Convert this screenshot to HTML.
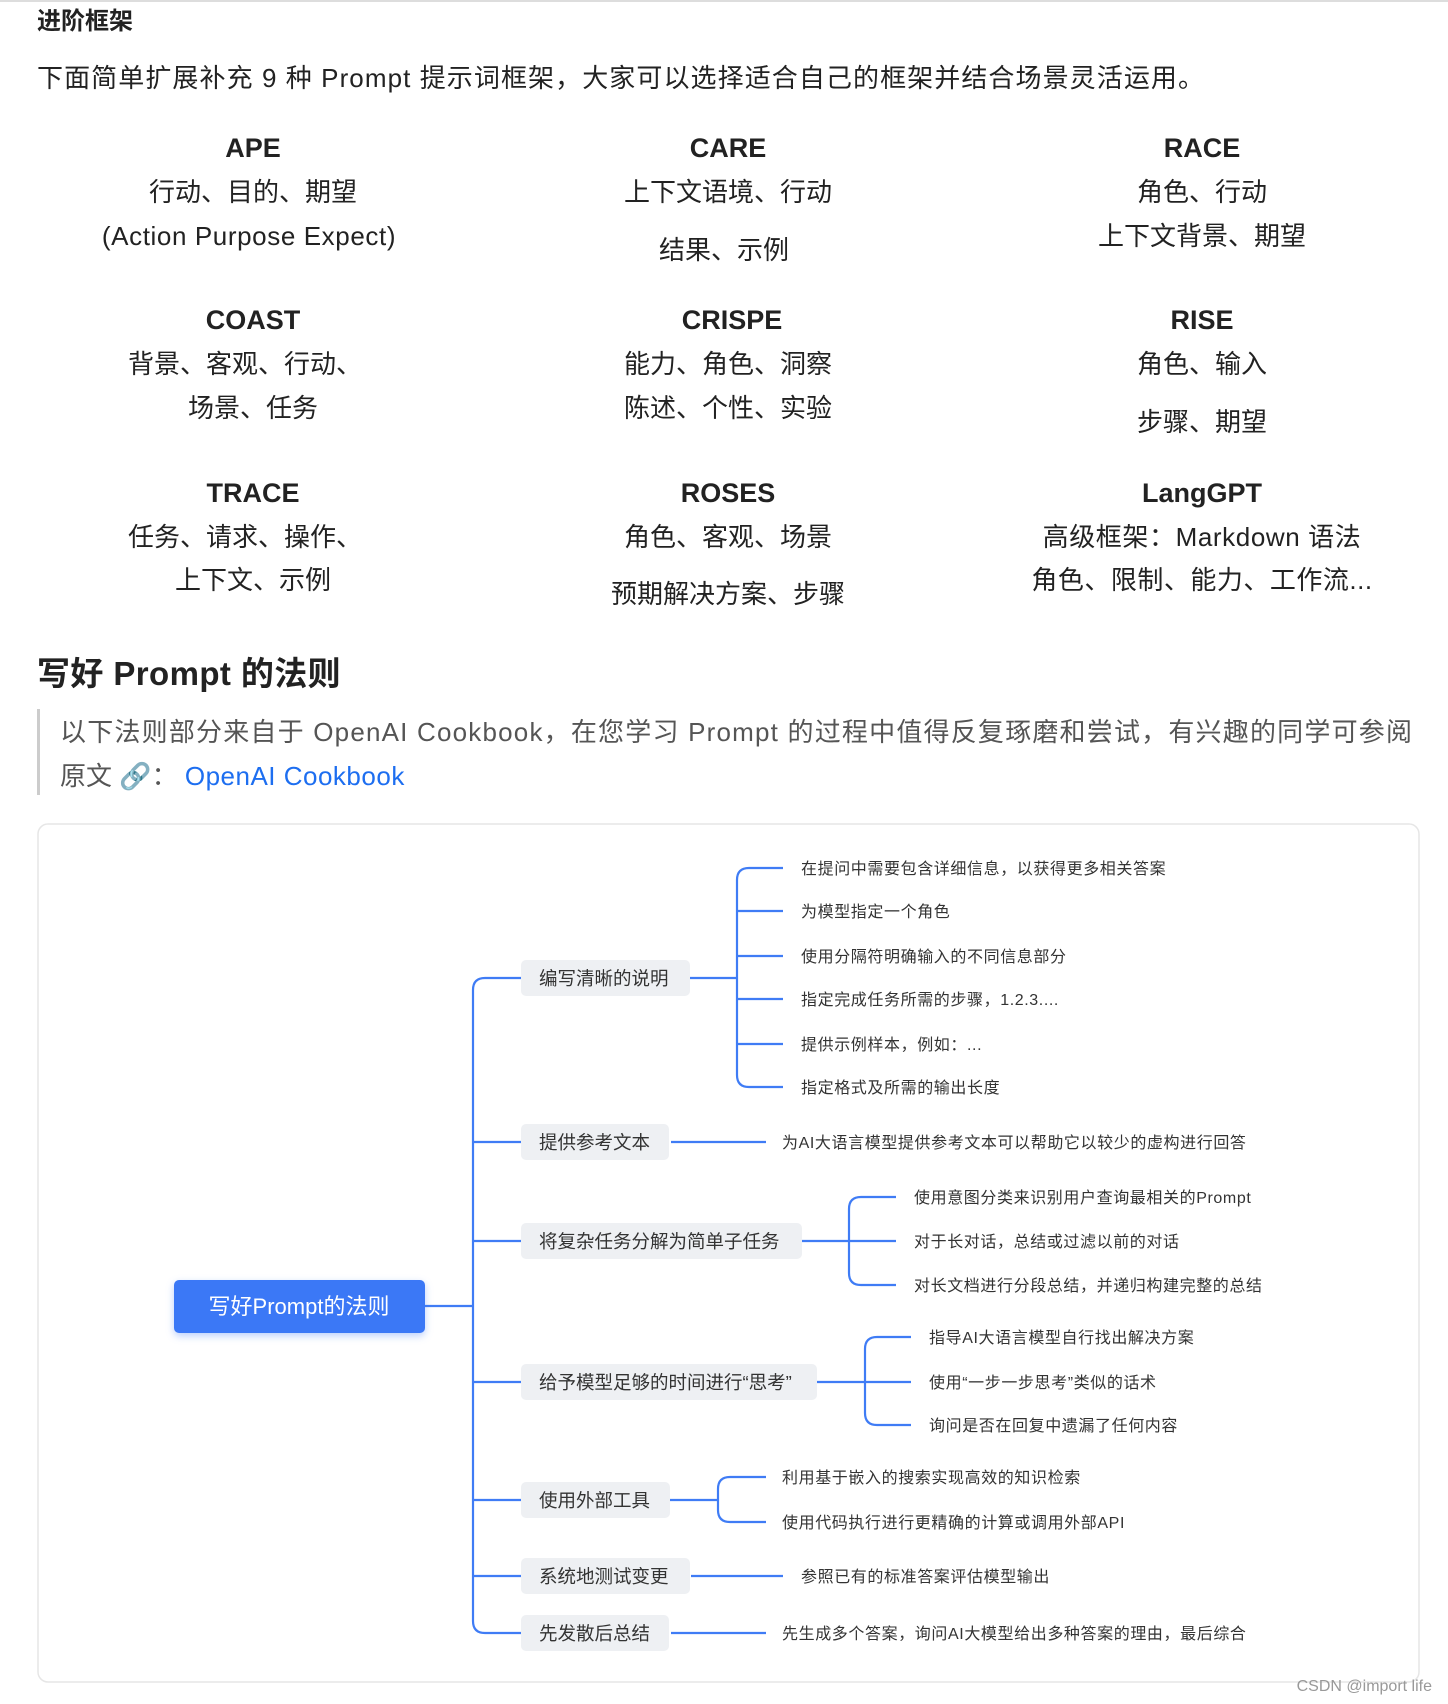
<!DOCTYPE html>
<html><head><meta charset="utf-8"><style>
html,body{margin:0;padding:0;background:#fff;}
svg{display:block;}
text{font-family:"Liberation Sans","Noto Sans CJK SC",sans-serif;}
</style></head><body>
<svg width="1448" height="1704" viewBox="0 0 1448 1704" xmlns="http://www.w3.org/2000/svg">
<line x1="0" y1="1" x2="1448" y2="1" stroke="#ddd" stroke-width="2"/>
<text x="37" y="29" font-size="24" font-weight="bold" fill="#222">进阶框架</text>
<text x="37" y="87" font-size="26" fill="#222" textLength="1167" lengthAdjust="spacing">下面简单扩展补充 9 种 Prompt 提示词框架，大家可以选择适合自己的框架并结合场景灵活运用。</text>

<g font-size="26" fill="#222" text-anchor="middle">
<text x="253" y="157" font-weight="bold" font-size="27">APE</text>
<text x="253" y="201">行动、目的、期望</text>
<text x="249" y="245" letter-spacing="0.6">(Action Purpose Expect)</text>
<text x="728" y="157" font-weight="bold" font-size="27">CARE</text>
<text x="728" y="201">上下文语境、行动</text>
<text x="724" y="259">结果、示例</text>
<text x="1202" y="157" font-weight="bold" font-size="27">RACE</text>
<text x="1202" y="201">角色、行动</text>
<text x="1202" y="245">上下文背景、期望</text>

<text x="253" y="329" font-weight="bold" font-size="27">COAST</text>
<text x="245" y="373">背景、客观、行动、</text>
<text x="253" y="417">场景、任务</text>
<text x="732" y="329" font-weight="bold" font-size="27">CRISPE</text>
<text x="728" y="373">能力、角色、洞察</text>
<text x="728" y="417">陈述、个性、实验</text>
<text x="1202" y="329" font-weight="bold" font-size="27">RISE</text>
<text x="1202" y="373">角色、输入</text>
<text x="1202" y="431">步骤、期望</text>

<text x="253" y="502" font-weight="bold" font-size="27">TRACE</text>
<text x="245" y="546">任务、请求、操作、</text>
<text x="253" y="589">上下文、示例</text>
<text x="728" y="502" font-weight="bold" font-size="27">ROSES</text>
<text x="728" y="546">角色、客观、场景</text>
<text x="728" y="603">预期解决方案、步骤</text>
<text x="1202" y="502" font-weight="bold" font-size="27">LangGPT</text>
<text x="1202" y="546" letter-spacing="0.6">高级框架：Markdown 语法</text>
<text x="1202" y="589" letter-spacing="0.5">角色、限制、能力、工作流...</text>
</g>

<text x="37" y="685" font-size="33" font-weight="bold" fill="#222" letter-spacing="0.4">写好 Prompt 的法则</text>
<rect x="37" y="709" width="3" height="86" fill="#ccc"/>
<text x="60" y="741" font-size="26" fill="#555" textLength="1352" lengthAdjust="spacing">以下法则部分来自于 OpenAI Cookbook，在您学习 Prompt 的过程中值得反复琢磨和尝试，有兴趣的同学可参阅</text>
<text x="60" y="785" font-size="26" fill="#555">原文 <tspan fill="#999">🔗</tspan>： <tspan fill="#1d6ef0" letter-spacing="0.5">OpenAI Cookbook</tspan></text>

<rect x="38" y="824" width="1381" height="858" rx="10" fill="#fff" stroke="#e6e6e6" stroke-width="1.5"/>

<g fill="none" stroke="#3f7cf5" stroke-width="2.2">
<path d="M425,1306 H473"/>
<path d="M521,978 H485 Q473,978 473,990 V1621 Q473,1633 485,1633 H521"/>
<path d="M473,1142 H521 M473,1241 H521 M473,1382 H521 M473,1500 H521 M473,1576 H521"/>
<path d="M690,978 H737"/>
<path d="M783,868 H749 Q737,868 737,880 V1075 Q737,1087 749,1087 H783"/>
<path d="M737,911 H783 M737,956 H783 M737,999 H783 M737,1044 H783"/>
<path d="M671,1142 H766"/>
<path d="M802,1241 H849"/>
<path d="M896,1197 H861 Q849,1197 849,1209 V1273 Q849,1285 861,1285 H896 M849,1241 H896"/>
<path d="M817,1382 H865"/>
<path d="M911,1337 H877 Q865,1337 865,1349 V1413 Q865,1425 877,1425 H911 M865,1382 H911"/>
<path d="M670,1500 H718"/>
<path d="M766,1477 H730 Q718,1477 718,1489 V1510 Q718,1522 730,1522 H766"/>
<path d="M691,1576 H783"/>
<path d="M671,1633 H766"/>
</g>

<rect x="174" y="1280" width="251" height="53" rx="5" fill="#3b78f6" style="filter:drop-shadow(0 3px 4px rgba(59,120,246,0.35))"/>
<text x="299" y="1314" font-size="22" fill="#fff" text-anchor="middle">写好Prompt的法则</text>

<g fill="#eef0f3">
<rect x="521" y="960" width="169" height="36" rx="5"/>
<rect x="521" y="1124" width="148" height="36" rx="5"/>
<rect x="521" y="1223" width="281" height="36" rx="5"/>
<rect x="521" y="1364" width="296" height="36" rx="5"/>
<rect x="521" y="1482" width="149" height="36" rx="5"/>
<rect x="521" y="1558" width="169" height="36" rx="5"/>
<rect x="521" y="1615" width="148" height="36" rx="5"/>
</g>
<g font-size="18.5" fill="#333">
<text x="539" y="985">编写清晰的说明</text>
<text x="539" y="1149">提供参考文本</text>
<text x="539" y="1248">将复杂任务分解为简单子任务</text>
<text x="539" y="1389">给予模型足够的时间进行“思考”</text>
<text x="539" y="1507">使用外部工具</text>
<text x="539" y="1583">系统地测试变更</text>
<text x="539" y="1640">先发散后总结</text>
</g>
<g font-size="16" fill="#333" letter-spacing="0.6">
<text x="801" y="874">在提问中需要包含详细信息，以获得更多相关答案</text>
<text x="801" y="917">为模型指定一个角色</text>
<text x="801" y="962">使用分隔符明确输入的不同信息部分</text>
<text x="801" y="1005">指定完成任务所需的步骤，1.2.3....</text>
<text x="801" y="1050">提供示例样本，例如：...</text>
<text x="801" y="1093">指定格式及所需的输出长度</text>
<text x="782" y="1148">为AI大语言模型提供参考文本可以帮助它以较少的虚构进行回答</text>
<text x="914" y="1203">使用意图分类来识别用户查询最相关的Prompt</text>
<text x="914" y="1247">对于长对话，总结或过滤以前的对话</text>
<text x="914" y="1291">对长文档进行分段总结，并递归构建完整的总结</text>
<text x="929" y="1343">指导AI大语言模型自行找出解决方案</text>
<text x="929" y="1388">使用“一步一步思考”类似的话术</text>
<text x="929" y="1431">询问是否在回复中遗漏了任何内容</text>
<text x="782" y="1483">利用基于嵌入的搜索实现高效的知识检索</text>
<text x="782" y="1528">使用代码执行进行更精确的计算或调用外部API</text>
<text x="801" y="1582">参照已有的标准答案评估模型输出</text>
<text x="782" y="1639">先生成多个答案，询问AI大模型给出多种答案的理由，最后综合</text>
</g>
<text x="1432" y="1691" font-size="16" fill="#999" text-anchor="end">CSDN @import life</text>
</svg>
</body></html>
